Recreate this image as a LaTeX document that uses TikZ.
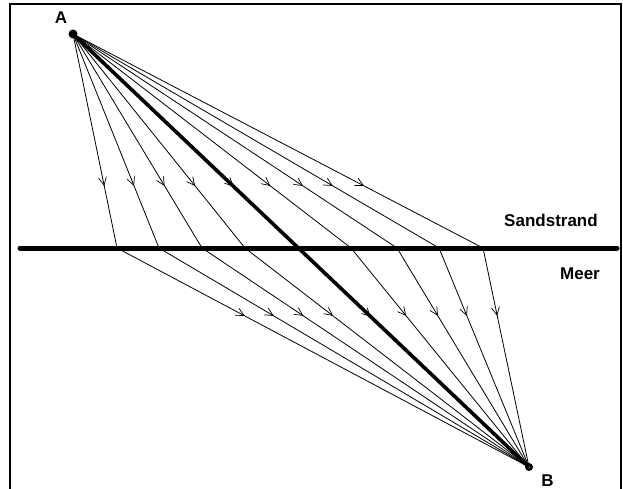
\documentclass[tikz,border=0pt]{standalone}
\usepackage{fontspec}
\setmainfont{Liberation Sans}
\usetikzlibrary{arrows.meta,decorations.markings}
\begin{document}
\begin{tikzpicture}[x=1pt,y=-1pt,
  tipshape/.tip={Straight Barb[length=8pt,width=8pt,line width=0.7pt]},
  ray/.style={line width=0.8pt},
  upray/.style={ray, postaction={decorate},
    decoration={markings, mark=at position 0.71 with {\arrow{tipshape}}}},
  downray/.style={ray, postaction={decorate},
    decoration={markings, mark=at position 0.31 with {\arrow{tipshape}}}},
  mainray/.style={line width=3.6pt, postaction={decorate},
    decoration={markings, mark=at position 0.352 with {\arrow{tipshape}},
      mark=at position 0.653 with {\arrow{tipshape}}}},
  shore/.style={line width=5pt, line cap=round},
  frameline/.style={line width=1.6pt},
  lbl/.style={inner sep=0pt, font=\fontsize{17}{20}\selectfont\bfseries}
]
\useasboundingbox (0,0) rectangle (623,489);
% frame
\coordinate (F1) at (10,492);
\coordinate (F2) at (10,4);
\coordinate (F3) at (621,4);
\coordinate (F4) at (621,492);
\draw[frameline] (F1) -- (F2) -- (F3) -- (F4);
% points
\coordinate (A) at (73,34);
\coordinate (B) at (529,467);
% shoreline
\coordinate (S1) at (20,248);
\coordinate (S2) at (617,248);
\draw[shore] (S1) -- (S2);
% refraction points
\foreach \i/\x in {1/117,2/159,3/202,4/245,5/351,6/397,7/439,8/483}{
  \coordinate (P\i) at (\x,248);
  \draw[upray] (A) -- (P\i);
  \draw[downray] (P\i) -- (B);
}
% straight line
\draw[mainray] (A) -- (B);
% dots
\fill (A) circle (4.5);
\draw[line width=2.6pt] (B) circle (2.6);
% labels
\node[lbl] (lA) at (61,18) {A};
\node[lbl] (lB) at (547.5,480.5) {B};
\node[lbl] (lS) at (551,220) {Sandstrand};
\node[lbl] (lM) at (580,274) {Meer};
\end{tikzpicture}
\end{document}
